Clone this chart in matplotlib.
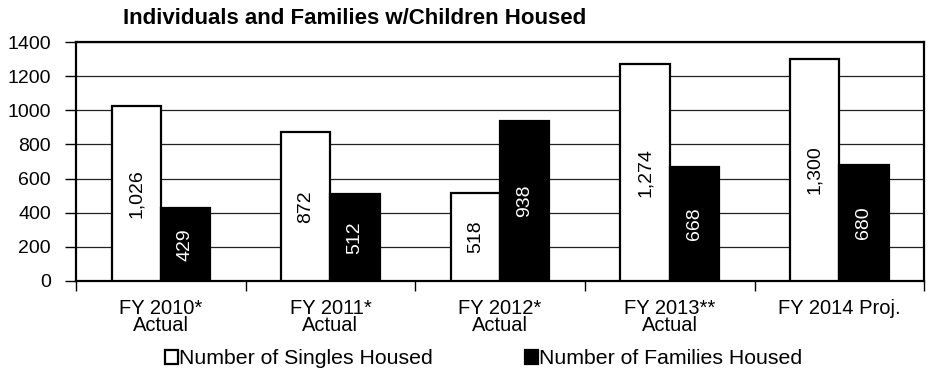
import numpy as np
from matplotlib import pyplot as plt

categories = ['FY 2010*\nActual', 'FY 2011*\nActual', 'FY 2012*\nActual',
              'FY 2013**\nActual', 'FY 2014 Proj.']
singles = [1026, 872, 518, 1274, 1300]
families = [429, 512, 938, 668, 680]
singles_labels = ['1,026', '872', '518', '1,274', '1,300']
families_labels = ['429', '512', '938', '668', '680']

plt.rcParams['font.family'] = ['Liberation Sans', 'DejaVu Sans']

fig = plt.figure(figsize=(9.3, 3.7), dpi=100)
ax = fig.add_axes([0.0817, 0.241, 0.912, 0.645])

x = np.arange(len(categories))
w = 0.29
b1 = ax.bar(x - w / 2, singles, w, color='white', edgecolor='black', linewidth=1.6,
            label='Number of Singles Housed', zorder=3)
b2 = ax.bar(x + w / 2, families, w, color='black', edgecolor='black', linewidth=1.6,
            label='Number of Families Housed', zorder=3)

for rect, lab in zip(b1, singles_labels):
    ax.text(rect.get_x() + rect.get_width() / 2, rect.get_height() / 2, lab,
            rotation=90, ha='center', va='center', fontsize=14, color='black', zorder=4)
for rect, lab in zip(b2, families_labels):
    ax.text(rect.get_x() + rect.get_width() / 2, rect.get_height() / 2, lab,
            rotation=90, ha='center', va='center', fontsize=14, color='white', zorder=4)

ax.set_xlim(-0.5, len(categories) - 0.5)
ax.set_ylim(0, 1400)
ax.set_yticks(range(0, 1401, 200))
ax.yaxis.grid(True, color='#222222', linewidth=0.9, zorder=0)
ax.set_axisbelow(True)

ax.set_xticks(x)
ax.set_xticklabels(categories, fontsize=14.5, linespacing=0.9)
ax.set_xticks(np.arange(-0.5, len(categories), 1), minor=True)
ax.tick_params(axis='x', which='major', length=0, pad=13)
ax.tick_params(axis='x', which='minor', length=7, width=1, direction='out')
ax.tick_params(axis='y', labelsize=14, length=8, width=1, direction='out', pad=10)

for s in ax.spines.values():
    s.set_linewidth(1.6)
    s.set_color('black')

fig.text(0.132, 0.95, 'Individuals and Families w/Children Housed',
         fontsize=16, fontweight='bold', ha='left', va='center')

fig.legend(handles=[b1, b2], loc='center', bbox_to_anchor=(0.52, 0.03), ncol=2,
           frameon=False, fontsize=15.3, handlelength=0.62, handleheight=0.62,
           handletextpad=0.05, columnspacing=4.3, borderpad=0)

fig.savefig('out.png', dpi=100)
